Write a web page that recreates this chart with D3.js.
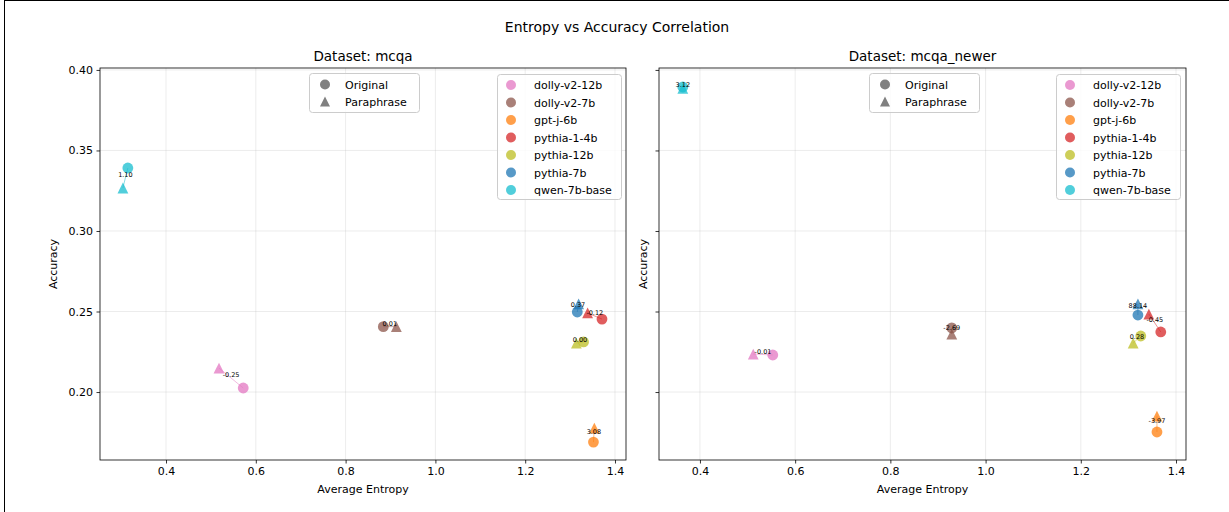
<!DOCTYPE html>
<html>
<head>
<meta charset="utf-8">
<script src="https://cdn.jsdelivr.net/npm/d3@7"></script>
<style>
  body { margin: 0; background: #fff; }
  svg { font-family: "DejaVu Sans", sans-serif; }
</style>
</head>
<body>
<svg id="chart" width="1229" height="512"></svg>
<script>
// models and colours (tab10)
let models = ['dolly-v2-12b', 'dolly-v2-7b', 'gpt-j-6b', 'pythia-1-4b', 'pythia-12b', 'pythia-7b', 'qwen-7b-base']
let colors = ['#e377c2', '#8c564b', '#ff7f0e', '#d62728', '#bcbd22', '#1f77b4', '#17becf']

// Dataset: mcqa
let mcqaOrigEnt  = [0.572, 0.884, 1.352, 1.371, 1.330, 1.316, 0.315]
let mcqaOrigAcc  = [0.2025, 0.2406, 0.1689, 0.2453, 0.2311, 0.2497, 0.3391]
let mcqaParaEnt  = [0.518, 0.913, 1.354, 1.339, 1.314, 1.319, 0.304]
let mcqaParaAcc  = [0.2149, 0.2406, 0.1776, 0.2491, 0.2304, 0.2547, 0.3267]
let mcqaLabels   = ['-0.25', '0.01', '3.08', '-0.12', '0.00', '0.37', '1.10']

// Dataset: mcqa_newer
let newerOrigEnt = [0.553, 0.929, 1.360, 1.368, 1.326, 1.320, 0.364]
let newerOrigAcc = [0.2230, 0.2398, 0.1752, 0.2373, 0.2348, 0.2478, 0.3894]
let newerParaEnt = [0.512, 0.929, 1.360, 1.343, 1.310, 1.320, 0.364]
let newerParaAcc = [0.2236, 0.2360, 0.1851, 0.2484, 0.2304, 0.2547, 0.3885]
let newerLabels  = ['-0.01', '-2.69', '-3.97', '-0.45', '0.28', '88.14', '3.12']

let xTicks = [0.4, 0.6, 0.8, 1.0, 1.2, 1.4]
let yTicks = [0.20, 0.25, 0.30, 0.35, 0.40]

let svg = d3.select('#chart')

// figure border
svg.append('rect').attr('x', 4.5).attr('y', 0.5).attr('width', 1240).attr('height', 530)
    .attr('fill', 'none').attr('stroke', '#000').attr('stroke-width', 1)

svg.append('text').attr('x', 617).attr('y', 32).attr('text-anchor', 'middle')
    .attr('font-size', 14).text('Entropy vs Accuracy Correlation')

// matplotlib style triangle '^'
function tri(s) {
    let h = s / 2
    return `M0,${-h}L${-h},${h}L${h},${h}Z`
}

function panel(opts) {
    let {left, right, xDomain, title, oe, oa, pe, pa, labels, showY, shapeLegX, modelLegX} = opts
    let top = 68, bottom = 460
    let x = d3.scaleLinear().domain(xDomain).range([left, right])
    let y = d3.scaleLinear().domain([0.1578, 0.4012]).range([bottom, top])
    let g = svg.append('g')

    // grid
    g.selectAll('.gx').data(xTicks).enter().append('line')
        .attr('x1', d => x(d)).attr('x2', d => x(d)).attr('y1', top).attr('y2', bottom)
        .attr('stroke', '#b0b0b0').attr('stroke-opacity', 0.3).attr('stroke-width', 0.8)
    g.selectAll('.gy').data(yTicks).enter().append('line')
        .attr('x1', left).attr('x2', right).attr('y1', d => y(d)).attr('y2', d => y(d))
        .attr('stroke', '#b0b0b0').attr('stroke-opacity', 0.3).attr('stroke-width', 0.8)

    // axes
    let xAxis = d3.axisBottom(x).tickValues(xTicks).tickFormat(d3.format('.1f')).tickSizeOuter(0).tickSize(3.5).tickPadding(3.5)
    let yAxis = d3.axisLeft(y).tickValues(yTicks).tickFormat(showY ? d3.format('.2f') : '').tickSizeOuter(0).tickSize(3.5).tickPadding(3.5)
    let ax = g.append('g').attr('transform', `translate(0,${bottom})`).call(xAxis)
    let ay = g.append('g').attr('transform', `translate(${left},0)`).call(yAxis)
    ;[ax, ay].forEach(a => {
        a.select('.domain').remove()
        a.selectAll('text').attr('font-size', 11).attr('fill', '#000').attr('font-family', 'DejaVu Sans')
        a.selectAll('line').attr('stroke', '#000').attr('stroke-width', 0.8)
    })
    g.append('rect').attr('x', left).attr('y', top).attr('width', right - left).attr('height', bottom - top)
        .attr('fill', 'none').attr('stroke', '#000').attr('stroke-width', 0.8)

    g.append('text').attr('x', (left + right) / 2).attr('y', 61).attr('text-anchor', 'middle')
        .attr('font-size', 13.5).text(title)
    g.append('text').attr('x', (left + right) / 2).attr('y', 493).attr('text-anchor', 'middle')
        .attr('font-size', 11).text('Average Entropy')
    g.append('text').attr('transform', `translate(${left - (showY ? 43 : 12)},${(top + bottom) / 2}) rotate(-90)`)
        .attr('text-anchor', 'middle').attr('font-size', 11).text('Accuracy')

    let idx = d3.range(models.length)
    // connecting lines
    g.selectAll('.link').data(idx).enter().append('line')
        .attr('x1', i => x(oe[i])).attr('y1', i => y(oa[i]))
        .attr('x2', i => x(pe[i])).attr('y2', i => y(pa[i]))
        .attr('stroke', i => colors[i]).attr('stroke-opacity', 0.5).attr('stroke-width', 1)
    // original circles
    g.selectAll('.orig').data(idx).enter().append('circle')
        .attr('cx', i => x(oe[i])).attr('cy', i => y(oa[i])).attr('r', 5.4)
        .attr('fill', i => colors[i]).attr('fill-opacity', 0.75)
    // paraphrase triangles
    g.selectAll('.para').data(idx).enter().append('path')
        .attr('d', tri(10.8))
        .attr('transform', i => `translate(${x(pe[i])},${y(pa[i])})`)
        .attr('fill', i => colors[i]).attr('fill-opacity', 0.75)
    // labels at midpoint
    g.selectAll('.lab').data(idx).enter().append('text')
        .attr('x', i => (x(oe[i]) + x(pe[i])) / 2)
        .attr('y', i => (y(oa[i]) + y(pa[i])) / 2 - 1)
        .attr('text-anchor', 'middle').attr('font-size', 6.5).attr('fill', '#000')
        .text(i => labels[i])

    // shape legend
    let sl = g.append('g').attr('transform', `translate(${shapeLegX},73)`)
    sl.append('rect').attr('x', 0.5).attr('y', 0.5).attr('width', 110).attr('height', 39).attr('rx', 3)
        .attr('fill', '#fff').attr('fill-opacity', 0.8).attr('stroke', '#cccccc')
    sl.append('circle').attr('cx', 16).attr('cy', 11.5).attr('r', 5).attr('fill', '#808080')
    sl.append('path').attr('d', tri(10)).attr('transform', 'translate(16,28.5)').attr('fill', '#808080')
    sl.append('text').attr('x', 36).attr('y', 15.5).attr('font-size', 11).text('Original')
    sl.append('text').attr('x', 36).attr('y', 32.5).attr('font-size', 11).text('Paraphrase')

    // model legend
    let ml = g.append('g').attr('transform', `translate(${modelLegX},74)`)
    ml.append('rect').attr('x', 0.5).attr('y', 0.5).attr('width', 124).attr('height', 125).attr('rx', 3)
        .attr('fill', '#fff').attr('fill-opacity', 0.8).attr('stroke', '#cccccc')
    ml.selectAll('.mk').data(idx).enter().append('circle')
        .attr('cx', 14).attr('cy', i => 11 + i * 17.5).attr('r', 5)
        .attr('fill', i => colors[i]).attr('fill-opacity', 0.75)
    ml.selectAll('.mt').data(idx).enter().append('text')
        .attr('x', 37).attr('y', i => 15 + i * 17.5).attr('font-size', 11)
        .text(i => models[i])
}

panel({left: 100, right: 626, xDomain: [0.253, 1.4245], title: 'Dataset: mcqa',
    oe: mcqaOrigEnt, oa: mcqaOrigAcc, pe: mcqaParaEnt, pa: mcqaParaAcc, labels: mcqaLabels,
    showY: true, shapeLegX: 309, modelLegX: 497})
panel({left: 659, right: 1186, xDomain: [0.314, 1.421], title: 'Dataset: mcqa_newer',
    oe: newerOrigEnt, oa: newerOrigAcc, pe: newerParaEnt, pa: newerParaAcc, labels: newerLabels,
    showY: false, shapeLegX: 869, modelLegX: 1056})
</script>
</body>
</html>
